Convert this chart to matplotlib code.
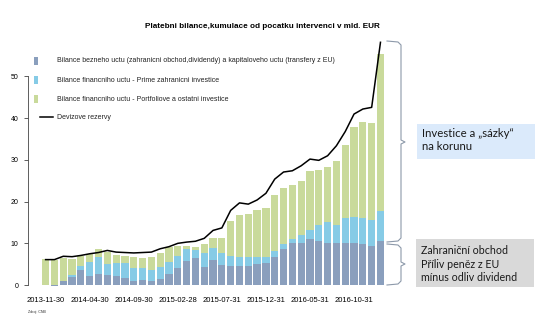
import matplotlib
matplotlib.use("Agg")
import matplotlib.pyplot as plt
import numpy as np
import pandas as pd

# monthly data, mld. EUR (cumulative since start of interventions)
months = pd.date_range("2013-11-30", periods=39, freq="ME").strftime("%Y-%m-%d").tolist()

# top of each stacked segment
current_top = [0.1, -0.2, 1.0, 2.0, 3.6, 2.2, 2.6, 2.4, 2.2, 1.8, 1.0, 1.2, 1.0,
               1.4, 2.6, 4.2, 5.8, 6.4, 4.4, 6.0, 4.8, 4.6, 4.6, 4.6, 5.1, 5.4,
               6.7, 8.6, 10.2, 10.2, 11.0, 10.6, 10.2, 10.0, 10.2, 10.2, 9.8, 9.4, 10.6]
fdi_top = [0.1, 0.0, 1.0, 2.3, 4.6, 5.6, 6.8, 5.0, 5.4, 5.2, 4.2, 4.0, 3.6,
           4.4, 5.5, 7.0, 8.6, 8.4, 7.8, 9.0, 7.8, 7.0, 6.8, 6.8, 6.8, 6.7,
           8.2, 9.8, 11.0, 12.0, 13.2, 14.4, 15.0, 14.4, 16.0, 16.2, 16.0, 15.6, 17.8]
portfolio_top = [6.2, 6.0, 6.4, 6.2, 7.0, 7.4, 8.6, 8.0, 7.2, 7.0, 6.8, 6.5, 6.8,
                 7.8, 9.1, 9.4, 9.4, 9.2, 9.8, 11.4, 11.2, 15.4, 16.8, 17.0, 17.9, 18.5,
                 21.6, 23.2, 23.9, 25.0, 27.4, 27.6, 28.2, 29.8, 33.6, 37.8, 39.2, 38.8, 55.3]
reserves = [6.1, 6.1, 6.9, 6.8, 7.1, 7.5, 7.8, 8.3, 7.9, 7.8, 7.7, 7.8, 7.9,
            8.7, 9.2, 10.0, 10.3, 10.5, 11.2, 13.1, 13.7, 17.9, 19.7, 19.4, 20.4, 22.0,
            25.4, 27.1, 27.4, 28.6, 30.2, 29.9, 31.0, 33.4, 36.8, 41.0, 42.2, 42.6, 58.2]

current = np.array(current_top)
fdi = np.array(fdi_top) - np.maximum(current, 0)
portfolio = np.array(portfolio_top) - np.array(fdi_top)

c_dark = "#8a9fbd"
c_blue = "#86cbe6"
c_green = "#c9da9b"

plt.rcParams["font.family"] = ["Liberation Sans", "DejaVu Sans"]

fig = plt.figure(figsize=(5.5, 3.31), dpi=100)
ax = fig.add_axes([0.0509, 0.1199, 0.6569, 0.775])

x = np.arange(len(months))
w = 0.82
ax.bar(x, current, w, color=c_dark, linewidth=0)
base = np.maximum(current, 0)
ax.bar(x, fdi, w, bottom=base, color=c_blue, linewidth=0)
ax.bar(x, portfolio, w, bottom=base + fdi, color=c_green, linewidth=0)
ax.plot(x, reserves, color="black", lw=1.1)

ax.set_xlim(-2, 39)
ax.set_ylim(-1.5, 60)
for s in ["top", "right", "bottom"]:
    ax.spines[s].set_visible(False)
ax.spines["left"].set_bounds(0, 50)
ax.spines["left"].set_linewidth(0.6)
ax.spines["left"].set_color("#444444")
ax.set_yticks([0, 10, 20, 30, 40, 50])
ax.tick_params(axis="y", length=3, width=0.6, labelsize=5, pad=4, colors="#444444",
               labelcolor="black")
ax.set_xticks(x[::5])
ax.set_xticklabels(months[::5], fontsize=5.5)
ax.tick_params(axis="x", length=0, pad=4)

fig.text(0.477, 0.921, "Platebni bilance,kumulace od pocatku intervenci v mld. EUR",
         ha="center", va="center", fontsize=5.9, fontweight="bold")

# legend
leg_items = [
    ("Bilance bezneho uctu (zahranicni obchod,dividendy) a kapitaloveho uctu (transfery z EU)", c_dark, 61),
    ("Bilance financniho uctu - Prime zahranicni investice", c_blue, 80),
    ("Bilance financniho uctu - Portfoliove a ostatni investice", c_green, 99),
]
for label, col, ypix in leg_items:
    fig.patches.append(plt.Rectangle((34 / 550, 1 - (ypix + 4) / 331), 3.5 / 550, 8 / 331,
                                     transform=fig.transFigure, color=col, lw=0))
    fig.text(57 / 550, 1 - ypix / 331, label, fontsize=5.0, va="center", color="#222222")
fig.lines.append(plt.Line2D([40 / 550, 53 / 550], [1 - 117 / 331] * 2,
                            transform=fig.transFigure, color="black", lw=1.1))
fig.text(57 / 550, 1 - 117 / 331, "Devizove rezervy", fontsize=5.0, va="center", color="#222222")

fig.text(28 / 550, 1 - 312 / 331, "Zdroj: CNB", fontsize=2.6, va="center", color="#333333")

# braces
def brace(y0, y1, ytip):
    xs = [387, 398, 401, 401, 405, 401, 401, 398, 387]
    ys = [y0, y0 + 1, y0 + 4, ytip - 2, ytip, ytip + 2, y1 - 4, y1 - 1, y1]
    fig.lines.append(plt.Line2D([v / 550 for v in xs], [1 - v / 331 for v in ys],
                                transform=fig.transFigure, color="#8d99aa", lw=0.8))

brace(41, 242, 142)
brace(244, 285, 264)

fig.patches.append(plt.Rectangle((416.5 / 550, 1 - 158.5 / 331), 118.5 / 550, 35 / 331,
                                 transform=fig.transFigure, color="#dbeafb", lw=0))
fig.text(422 / 550, 1 - 140 / 331, "Investice a \u201esázky\u201c\nna korunu", fontsize=8.2,
         family=["Lato", "DejaVu Sans"], va="center", linespacing=1.2, color="#1a1a1a")
fig.patches.append(plt.Rectangle((416 / 550, 1 - 287 / 331), 118 / 550, 48 / 331,
                                 transform=fig.transFigure, color="#d9d9d9", lw=0))
fig.text(421 / 550, 1 - 264 / 331, "Zahraniční obchod\nPříliv peněz z EU\nmínus odliv dividend",
         fontsize=7.7, family=["Lato", "DejaVu Sans"], va="center", linespacing=1.25,
         color="#1a1a1a")

fig.savefig("out.png", dpi=100)
